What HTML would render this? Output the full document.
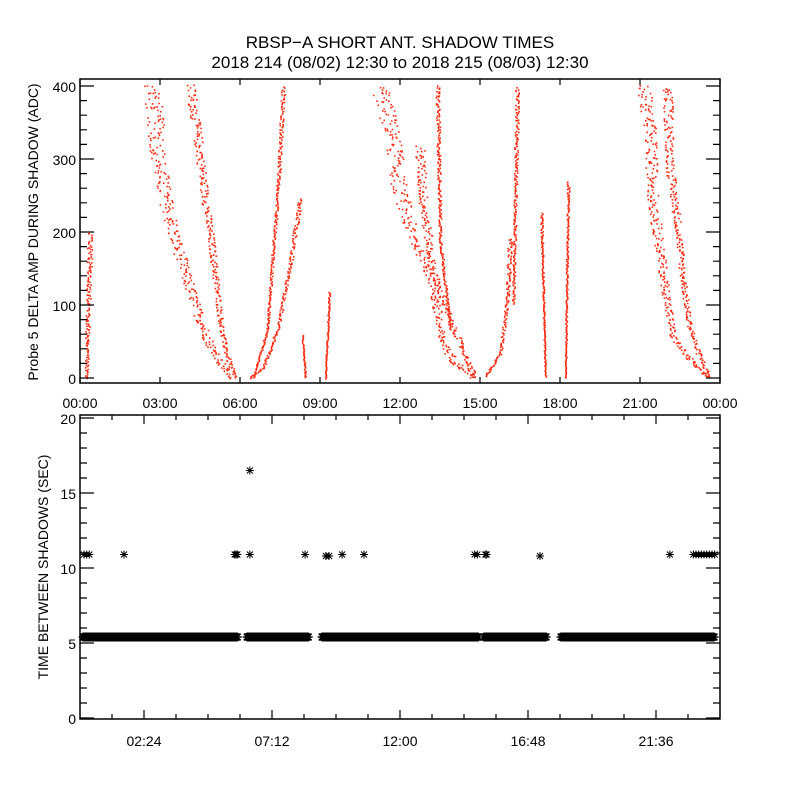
<!DOCTYPE html>
<html><head><meta charset="utf-8"><style>
body{margin:0;background:#fff}
svg{display:block}
text{font-family:"Liberation Sans",sans-serif;fill:#000}
</style></head><body>
<svg id="chart" width="800" height="800" viewBox="0 0 800 800">
<rect width="800" height="800" fill="#fff"/>
<text x="400" y="48" font-size="17" text-anchor="middle">RBSP−A SHORT ANT. SHADOW TIMES</text>
<text x="400" y="68" font-size="17" text-anchor="middle">2018 214 (08/02) 12:30 to 2018 215 (08/03) 12:30</text>
<g id="topPanel"></g>
<g id="botPanel"></g>
</svg>
<script>
// ---- top panel data: branches of [hour, ADC] anchor points ----
const branchA=[[0.22,0],[0.37,200]];
const branchB=[[2.70,400],[2.92,299],[3.19,244],[3.56,189],[4.12,121],[4.50,79],[4.87,45],[5.32,18],[5.70,0]];
const branchC=[[4.12,400],[4.42,326],[4.69,244],[4.95,175],[5.17,107],[5.32,59],[5.55,25],[5.81,0]];
const branchD=[[6.34,1],[6.86,15],[7.39,66],[7.87,158],[8.25,248]];
const branchE=[[6.49,1],[7.01,66],[7.24,179],[7.39,248],[7.50,316],[7.61,400]];
const branchF=[[8.32,59],[8.44,0]];
const branchG=[[9.19,0],[9.34,120]];
const branchH=[[11.25,399],[11.74,330],[11.89,271],[12.37,203],[13.20,138],[13.50,56],[13.99,25],[14.74,1]];
const branchI1=[[12.71,316],[12.86,240],[13.20,148],[13.87,79],[14.51,25],[14.81,1]];
const branchI2=[[13.39,400],[13.50,189],[13.87,66]];
const branchJ1=[[15.19,3],[15.75,34],[16.01,107],[16.12,193]];
const branchJ2=[[16.24,103],[16.31,240],[16.39,399]];
const branchK=[[17.29,226],[17.44,1]];
const branchL=[[18.19,1],[18.30,271]];
const branchM=[[21.11,399],[21.37,330],[21.48,240],[21.75,171],[22.01,103],[22.23,56],[22.87,25],[23.51,1]];
const branchN=[[22.01,399],[22.12,285],[22.38,216],[22.57,148],[22.80,79],[23.13,38],[23.62,1]];
const branchSpread=[4,9,5,3,2,1.5,1.5,9,6,2,3,2,1.5,1.5,7,5];
const topXTicks=["00:00","03:00","06:00","09:00","12:00","15:00","18:00","21:00","00:00"];
const topYTicks=[0,100,200,300,400];
// ---- bottom panel data ----
const bandSegments=[[0.12,5.92],[6.27,8.56],[9.08,14.96],[15.15,17.5],[18.04,23.8]];
const bandValue=5.4;
const outlierTimes=[0.15,0.25,0.35,1.65,5.8,5.85,5.9,6.37,8.44,9.22,9.34,9.83,10.65,14.8,14.9,15.2,15.25,17.25,22.12,23.0,23.1,23.2,23.3,23.4,23.5,23.6,23.7,23.8];
const outlierValues=[10.9,10.9,10.9,10.9,10.9,10.9,10.9,10.9,10.9,10.8,10.8,10.9,10.9,10.9,10.9,10.9,10.9,10.8,10.9,10.9,10.9,10.9,10.9,10.9,10.9,10.9,10.9,10.9];
const extraTimes=[6.37];
const extraValues=[16.5];
const botXTicks=["02:24","07:12","12:00","16:48","21:36"];
const botYTicks=[0,5,10,15,20];

const NS="http://www.w3.org/2000/svg";
function mk(tag,attrs,parent){const e=document.createElementNS(NS,tag);for(const k in attrs)e.setAttribute(k,attrs[k]);parent.appendChild(e);return e;}
const L=80,R=720;
const xs=h=>L+(h/24)*(R-L);
const ty=v=>378-v*0.73;
const by=v=>718-v*15;
let seed=12345;function rnd(){seed=(seed*1103515245+12345)%2147483648;return seed/2147483648;}

// ---- top panel ----
const topG=document.getElementById('topPanel');
const branches=[branchA,branchB,branchC,branchD,branchE,branchF,branchG,branchH,branchI1,branchI2,branchJ1,branchJ2,branchK,branchL,branchM,branchN];
let d="";
branches.forEach((br,bi)=>{
  for(let i=0;i<br.length-1;i++){
    const x1=xs(br[i][0]),y1=ty(br[i][1]),x2=xs(br[i+1][0]),y2=ty(br[i+1][1]);
    const len=Math.hypot(x2-x1,y2-y1);const n=Math.ceil(len/1.1);
    for(let k=0;k<n;k++){const t=k/n;
      const s=branchSpread[bi]*(0.4+0.6*Math.max(0,(378-(y1+(y2-y1)*t))/292));
      const px=x1+(x2-x1)*t+(rnd()-0.5)*2*s,py=y1+(y2-y1)*t+(rnd()-0.5)*s;
      if(py<80||py>381)continue;
      d+="M"+px.toFixed(1)+" "+py.toFixed(1)+"h1.6v1.6h-1.6z";}
  }
});
const pts=mk('path',{d:d,fill:'#ff2a10'},topG);


const tf=mk('rect',{x:80,y:79,width:640,height:304,fill:'none',stroke:'#000','stroke-width':1.5},topG);


let tk="";
for(let i=0;i<=8;i++){const x=xs(i*3);tk+=`M${x} 383v-6M${x} 79v6`;}
for(let v=0;v<=400;v+=20){const y=ty(v);const l=(v%100===0)?14:7;tk+=`M80 ${y}h${l}M720 ${y}h-${l}`;}
const tt=mk('path',{d:tk,stroke:'#000','stroke-width':1.2,fill:'none'},topG);


topXTicks.forEach((s,i)=>{const e=mk('text',{x:xs(i*3),y:408,'font-size':14,'text-anchor':'middle'},topG);e.textContent=s;

});
topYTicks.forEach(v=>{const e=mk('text',{x:76,y:ty(v)+6,'font-size':14,'text-anchor':'end'},topG);e.textContent=v;

});
const tyt=mk('text',{x:0,y:0,'font-size':14,'text-anchor':'middle',transform:'translate(38,232) rotate(-90)'},topG);
tyt.textContent="Probe 5 DELTA AMP DURING SHADOW (ADC)";



// ---- bottom panel ----
const botG=document.getElementById('botPanel');
function star(x,y,r){return `M${x-r} ${y}h${2*r}M${x} ${y-r}v${2*r}M${x-r*0.75} ${y-r*0.75}l${1.5*r} ${1.5*r}M${x-r*0.75} ${y+r*0.75}l${1.5*r} ${-1.5*r}`;}
let bd="";
bandSegments.forEach(sg=>{for(let x=xs(sg[0]);x<=xs(sg[1]);x+=1)bd+=star(x,by(bandValue),4.5);});
const band=mk('path',{d:bd,stroke:'#000','stroke-width':1.6,fill:'none'},botG);


let od="";
outlierTimes.forEach((t,i)=>{od+=star(xs(t),by(outlierValues[i]),4);});
extraTimes.forEach((t,i)=>{od+=star(xs(t),by(extraValues[i]),4);});
const out=mk('path',{d:od,stroke:'#000','stroke-width':1,fill:'none'},botG);


const bf=mk('rect',{x:80,y:415,width:640,height:304,fill:'none',stroke:'#000','stroke-width':1.5},botG);


let bk="";
for(let i=1;i<20;i++){const x=xs(i*1.2);const l=((i-2)%4===0)?9:5;bk+=`M${x} 719v-${l}M${x} 415v${l}`;}
for(let v=0;v<=20;v++){const y=by(v);const l=(v%5===0)?14:7;bk+=`M80 ${y}h${l}M720 ${y}h-${l}`;}
const bt=mk('path',{d:bk,stroke:'#000','stroke-width':1.2,fill:'none'},botG);


botXTicks.forEach((s,i)=>{const e=mk('text',{x:xs(2.4+i*4.8),y:746,'font-size':14,'text-anchor':'middle'},botG);e.textContent=s;

});
botYTicks.forEach(v=>{const e=mk('text',{x:76,y:by(v)+6,'font-size':14,'text-anchor':'end'},botG);e.textContent=v;

});
const byt=mk('text',{x:0,y:0,'font-size':14,'text-anchor':'middle',transform:'translate(48,567) rotate(-90)'},botG);
byt.textContent="TIME BETWEEN SHADOWS (SEC)";


</script>
</body></html>
